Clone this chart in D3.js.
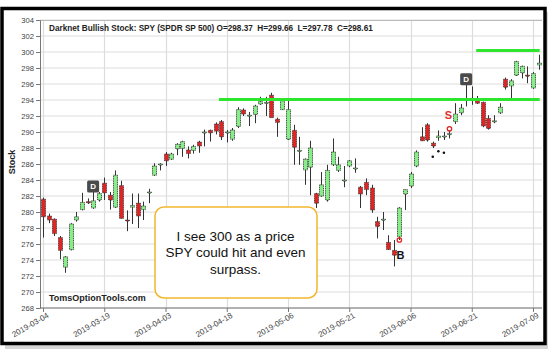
<!DOCTYPE html>
<html><head><meta charset="utf-8">
<script src="https://cdn.jsdelivr.net/npm/d3@7"></script>
<style>
html,body{margin:0;padding:0;background:#fff;}
svg{display:block;font-family:"Liberation Sans",Arial,sans-serif;}
</style></head>
<body><svg id="c" width="550" height="356"></svg>
<script>
const dates = ["2019-03-04","2019-03-05","2019-03-06","2019-03-07","2019-03-08","2019-03-11","2019-03-12","2019-03-13","2019-03-14","2019-03-15",
"2019-03-18","2019-03-19","2019-03-20","2019-03-21","2019-03-22","2019-03-25","2019-03-26","2019-03-27","2019-03-28","2019-03-29",
"2019-04-01","2019-04-02","2019-04-03","2019-04-04","2019-04-05","2019-04-08","2019-04-09","2019-04-10","2019-04-11","2019-04-12",
"2019-04-15","2019-04-16","2019-04-17","2019-04-18","2019-04-22","2019-04-23","2019-04-24","2019-04-25","2019-04-26","2019-04-29",
"2019-04-30","2019-05-01","2019-05-02","2019-05-03","2019-05-06","2019-05-07","2019-05-08","2019-05-09","2019-05-10","2019-05-13",
"2019-05-14","2019-05-15","2019-05-16","2019-05-17","2019-05-20","2019-05-21","2019-05-22","2019-05-23","2019-05-24","2019-05-28",
"2019-05-29","2019-05-30","2019-05-31","2019-06-03","2019-06-04","2019-06-05","2019-06-06","2019-06-07","2019-06-10","2019-06-11",
"2019-06-12","2019-06-13","2019-06-14","2019-06-17","2019-06-18","2019-06-19","2019-06-20","2019-06-21","2019-06-24","2019-06-25",
"2019-06-26","2019-06-27","2019-06-28","2019-07-01","2019-07-02","2019-07-03","2019-07-05","2019-07-08","2019-07-09","2019-07-10"];
const open  = [281.6,279.5,279.1,276.8,273.1,275.3,279.0,280.3,281.3,280.5,
281.5,283.6,282.1,280.6,283.3,279.0,280.6,281.1,280.3,282.4,
284.6,285.9,287.25,286.6,287.9,287.95,287.75,287.7,288.75,289.9,
290.2,291.0,291.3,289.9,289.1,290.7,292.75,292.0,292.2,293.5,
293.6,294.6,291.6,292.8,289.1,290.2,287.6,285.25,285.6,282.3,
282.0,281.5,285.9,285.2,283.9,285.75,285.4,283.1,283.7,283.0,
278.8,279.0,276.2,275.2,276.9,282.25,283.25,285.75,289.4,290.9,
288.6,289.3,289.4,289.7,291.3,292.4,296.1,294.2,294.0,293.7,
291.7,291.3,292.4,296.6,295.75,297.1,297.4,297.1,295.5,298.37];
const high  = [281.8,279.8,279.2,277.0,274.5,278.6,280.0,282.4,281.7,282.5,
282.5,284.3,282.5,285.2,283.9,280.2,282.3,282.3,281.3,282.9,
286.1,286.1,287.5,287.4,288.6,288.9,288.2,288.4,288.9,290.3,
290.3,291.2,291.5,290.25,290.5,293.1,292.95,292.5,293.4,294.4,
294.4,294.9,291.8,294.2,293.9,290.9,289.4,286.7,288.9,282.4,
285.0,285.9,289.2,286.9,285.75,286.5,286.7,283.25,284.2,283.4,
279.4,280.0,277.1,276.5,280.6,282.8,285.0,287.7,290.6,291.1,
288.8,290.2,290.0,290.2,293.6,293.5,296.2,295.7,294.5,293.8,
292.1,292.1,293.6,296.8,296.6,298.9,298.3,298.2,297.5,299.66];
const low   = [276.8,278.6,277.0,274.1,272.4,275.2,278.8,280.2,281.0,280.4,
281.3,281.5,280.3,280.5,279.2,277.6,278.5,278.0,279.0,281.1,
284.5,285.2,285.75,286.5,287.1,286.9,286.7,287.3,287.4,288.2,
288.8,289.7,289.0,288.7,288.9,290.5,292.0,290.75,291.1,293.4,
292.0,291.8,289.4,292.75,289.0,285.9,285.9,283.4,282.1,280.5,
281.9,281.3,285.75,285.0,283.1,285.6,284.9,280.5,282.1,279.9,
276.7,277.75,275.25,273.2,276.5,280.25,283.0,285.6,288.9,288.8,
288.0,288.9,289.0,289.2,291.0,292.1,293.2,293.4,293.5,290.6,
290.3,291.1,292.25,295.3,294.2,297.0,296.7,296.1,295.4,297.78];
const close = [279.4,279.0,277.3,275.2,274.4,278.5,279.4,281.2,281.15,281.4,
282.3,282.4,281.5,284.6,279.2,278.9,280.8,279.5,280.75,282.5,
285.75,286.0,286.4,287.25,288.46,288.8,287.3,288.2,288.25,290.0,
289.9,290.1,289.4,290.0,290.25,292.8,292.25,292.1,293.25,293.8,
293.7,291.8,291.2,293.9,292.8,288.1,287.7,286.6,288.0,281.1,
283.4,285.2,287.5,285.9,284.0,286.4,285.5,282.25,282.8,280.25,
278.2,279.1,275.3,274.6,280.5,282.8,284.75,287.5,288.9,289.0,
288.25,289.5,289.5,289.8,292.25,293.0,296.0,294.0,293.6,290.75,
290.45,291.4,293.1,295.6,296.4,298.8,298.2,297.0,297.3,298.61];
const yTicks = [268,270,272,274,276,278,280,282,284,286,288,290,292,294,296,298,300,302,304];
const xTickIdx = [0,11,22,33,44,55,66,77,88];
const title = "Darknet Bullish Stock: SPY (SPDR SP 500) O=298.37  H=299.66  L=297.78  C=298.61";
const yLabel = "Stock";
const watermark = "TomsOptionTools.com";
const noteLines = ["I see 300 as a price","SPY could hit and even","surpass."];
// resistance / target lines: [startIdx, endIdx, price]
const levelLines = [[31.6,89.2,294.05],[77.8,89.2,300.2]];
// signal markers
const dMarks = [[9,283.2],[76,296.6]];
const dotMarks = [[70,286.9],[71,287.6],[72,287.4]];
const ringMarks = [[64,276.5],[73,290.4]];
const letterMarks = [["S",72.8,292.1,"#e03030"],["B",64.2,274.6,"#111"]];

const svg = d3.select("#c");
// frame with shadow
svg.append("rect").attr("x",5).attr("y",12).attr("width",543).attr("height",337).attr("fill","#bbb").attr("opacity",0.6);
svg.append("rect").attr("x",2).attr("y",8.5).attr("width",543).attr("height",335).attr("fill","#fff").attr("stroke","#000").attr("stroke-width",3.5);

const L=40,R=542,T=20,B=308;
const x = d3.scaleLinear().domain([0,88]).range([43,533]);
const y = d3.scaleLinear().domain([268,304]).range([B,T]);

const g = svg.append("g");
g.append("defs").append("clipPath").attr("id","clp").append("rect").attr("x",L).attr("y",T).attr("width",R-L).attr("height",B-T);
// grid
g.selectAll(".hg").data(yTicks).join("line").attr("x1",L).attr("x2",R).attr("y1",d=>y(d)).attr("y2",d=>y(d)).attr("stroke","#dcdcdc").attr("stroke-width",1);
g.selectAll(".vg").data(xTickIdx).join("line").attr("x1",d=>Math.round(x(d))+0.5).attr("x2",d=>Math.round(x(d))+0.5).attr("y1",T).attr("y2",B).attr("stroke","#dcdcdc").attr("stroke-width",1.2);
g.append("line").attr("x1",L).attr("x2",R).attr("y1",T+0.5).attr("y2",T+0.5).attr("stroke","#bbb");

// axes
const yAxis = d3.axisLeft(y).tickValues(yTicks).tickSize(4).tickPadding(2);
const ya = g.append("g").attr("transform",`translate(${L},0)`).call(yAxis);
ya.selectAll("text").attr("font-size","7.6px").attr("fill","#444");
ya.selectAll("line,path").attr("stroke","#777");
const xAxis = d3.axisBottom(x).tickValues(xTickIdx).tickSize(4).tickFormat(i=>dates[i]);
const xa = g.append("g").attr("transform",`translate(0,${B})`).call(xAxis);
xa.select("path").attr("d",`M${L},0H${R}`).attr("stroke","#777");
xa.selectAll("line").attr("stroke","#777");
xa.selectAll("text").attr("font-size","8px").attr("fill","#444").attr("text-anchor","end")
  .attr("transform","translate(3,4) rotate(-30)").attr("dy","0.35em").attr("y",3).attr("x",0);

g.append("text").attr("transform","translate(15,162) rotate(-90)").attr("text-anchor","middle")
  .attr("font-size","9px").attr("font-weight","bold").attr("fill","#222").text(yLabel);

const plot = g.append("g").attr("clip-path","url(#clp)");
// candles
const idx = d3.range(dates.length);
plot.selectAll(".wick").data(idx).join("line")
  .attr("x1",i=>Math.round(x(i))+0.5).attr("x2",i=>Math.round(x(i))+0.5)
  .attr("y1",i=>y(high[i])).attr("y2",i=>y(low[i])).attr("stroke","#333").attr("stroke-width",1);
const bw = 4;
plot.selectAll(".body").data(idx).join("rect")
  .attr("x",i=>Math.round(x(i))+0.5-bw/2).attr("width",bw)
  .attr("y",i=>y(Math.max(open[i],close[i])))
  .attr("height",i=>Math.max(1,Math.abs(y(open[i])-y(close[i]))))
  .attr("fill",i=>close[i]>=open[i]?"#86ee86":"#e02424")
  .attr("stroke","#333").attr("stroke-width",0.8).attr("stroke-dasharray","1.2,0.6");

// level lines
plot.selectAll(".lvl").data(levelLines).join("line")
  .attr("x1",d=>x(d[0])).attr("x2",d=>x(d[1])).attr("y1",d=>y(d[2])).attr("y2",d=>y(d[2]))
  .attr("stroke","#2ee62e").attr("stroke-width",3);

// markers
plot.selectAll(".dot").data(dotMarks).join("circle").attr("cx",d=>x(d[0])).attr("cy",d=>y(d[1])).attr("r",1.3).attr("fill","#111");
plot.selectAll(".ring").data(ringMarks).join("circle").attr("cx",d=>x(d[0])).attr("cy",d=>y(d[1])).attr("r",2.2).attr("fill","none").attr("stroke","#e02424").attr("stroke-width",1.3);
const dm = plot.selectAll(".dm").data(dMarks).join("g").attr("transform",d=>`translate(${x(d[0])},${y(d[1])})`);
dm.append("rect").attr("x",-6).attr("y",-6).attr("width",12).attr("height",12).attr("rx",1.5).attr("fill","#4a4a4a");
dm.append("text").attr("text-anchor","middle").attr("y",3).attr("font-size","8px").attr("font-weight","bold").attr("fill","#fff").text("D");
plot.selectAll(".lm").data(letterMarks).join("text").attr("x",d=>x(d[1])).attr("y",d=>y(d[2])+4).attr("text-anchor","middle")
  .attr("font-size","11px").attr("font-weight","bold").attr("fill",d=>d[3]).text(d=>d[0]);

// title and watermark
g.append("text").attr("x",49).attr("y",31).attr("font-size","8.2px").attr("font-weight","bold").attr("fill","#222")
  .attr("xml:space","preserve").style("white-space","pre").text(title);
g.append("text").attr("x",49).attr("y",301).attr("font-size","9px").attr("font-weight","bold").attr("fill","#222").text(watermark);

// note box
g.append("rect").attr("x",155).attr("y",207).attr("width",162).attr("height",91).attr("rx",9)
  .attr("fill","#fff").attr("stroke","#f3b72c").attr("stroke-width",1.5);
g.selectAll(".note").data(noteLines).join("text").attr("x",235.5).attr("y",(d,i)=>240.7+i*16.7)
  .attr("text-anchor","middle").attr("font-size","13.5px").attr("fill","#111").text(d=>d);
</script></body></html>
